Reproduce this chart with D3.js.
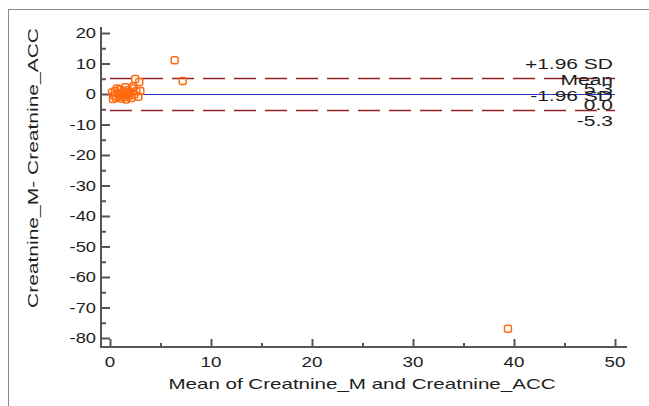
<!DOCTYPE html>
<html>
<head>
<meta charset="utf-8">
<script src="https://cdn.jsdelivr.net/npm/d3@7"></script>
<style>
    body { margin: 0; background: #fff; }
    svg { font-family: 'Liberation Sans', Arial, sans-serif; }
</style>
</head>
<body>
<div id="blandAltman"></div>
<script>
//Mean of the two methods (x) and their difference (y)
var meanValues = [0.2, 0.4, 0.5, 0.6, 0.8, 0.9, 1.0, 1.1, 1.2, 1.3, 1.4, 1.5, 1.6, 1.7, 1.8, 1.9,
    2.0, 2.1, 2.2, 2.4, 2.6, 2.8, 0.3, 0.7, 1.0, 1.5, 2.3, 3.0, 2.5, 2.9, 7.2, 6.4, 39.4];
var diffValues = [0.5, -0.5, 1.0, -1.2, 0.2, -0.8, 1.5, -1.5, 0.3, -0.4, 0.8, -1.0, -1.8, 0.1, 1.2, -0.6,
    0.6, -1.3, 1.8, -0.2, 0.9, -0.9, -1.6, 1.8, -0.2, 2.2, 2.5, 1.0, 4.9, 3.9, 4.3, 11.1, -77.0];

//Reference lines: +1.96 SD, mean, -1.96 SD
var refNames = ['+1.96 SD', 'Mean', '-1.96 SD'];
var refValues = [5.3, 0.0, -5.3];

var xTicks = [0, 10, 20, 30, 40, 50];
var yTicks = [20, 10, 0, -10, -20, -30, -40, -50, -60, -70, -80];

var width = 649, height = 406;

var x = d3.scaleLinear().domain([0, 50]).range([110, 615]);
var y = d3.scaleLinear().domain([20, -80]).range([33, 338]);

var svg = d3.select('#blandAltman')
    .append('svg')
    .attr('width', width)
    .attr('height', height);

//Text in the original is stretched sideways, so draw it with a horizontal scale
function addText(px, py, str, anchor, stretch, rotate){
    return svg.append('text')
        .attr('transform', 'translate(' + px + ',' + py + ')' + (rotate ? ' rotate(' + rotate + ')' : '') +
            ' scale(' + stretch + ',1)')
        .attr('text-anchor', anchor)
        .style('font-size', '15px')
        .style('fill', '#1e1e1e')
        .text(str);
}

//Frame edges
svg.append('line')
    .attr('x1', 8).attr('x2', width).attr('y1', 9.5).attr('y2', 9.5)
    .style('stroke', '#8a8a8a');
svg.append('line')
    .attr('x1', 8.5).attr('x2', 8.5).attr('y1', 9).attr('y2', height)
    .style('stroke', '#8a8a8a');

//Axes (ticks point inward)
var axisColor = '#555';
var yAxis = svg.append('g')
    .attr('transform', 'translate(101,0)')
    .call(d3.axisRight(y).tickValues(yTicks).tickSize(9).tickFormat(''));
var yMinor = svg.append('g')
    .attr('transform', 'translate(101,0)')
    .call(d3.axisRight(y).tickValues(d3.range(15, -80, -10)).tickSize(5).tickFormat(''));
var xAxis = svg.append('g')
    .attr('transform', 'translate(0,347)')
    .call(d3.axisTop(x).tickValues(xTicks).tickSize(8).tickFormat(''));
var xMinor = svg.append('g')
    .attr('transform', 'translate(0,347)')
    .call(d3.axisTop(x).tickValues(d3.range(5, 50, 10)).tickSize(4).tickFormat(''));

[yAxis, yMinor, xAxis, xMinor].forEach(function(g){
    g.select('.domain').remove();
    g.selectAll('line').style('stroke', axisColor).style('stroke-width', 2);
});

//Axis lines meeting at the corner
svg.append('line')
    .attr('x1', 101).attr('x2', 101).attr('y1', 27).attr('y2', 348)
    .style('stroke', axisColor).style('stroke-width', 2);
svg.append('line')
    .attr('x1', 100).attr('x2', 627).attr('y1', 347).attr('y2', 347)
    .style('stroke', axisColor).style('stroke-width', 2);

//Tick labels
yTicks.forEach(function(d){
    addText(96, y(d) + 5, d, 'end', 1.22);
});
xTicks.forEach(function(d){
    addText(x(d), 367, d, 'middle', 1.25);
});

//Axis titles
addText(362, 389, 'Mean of Creatnine_M and Creatnine_ACC', 'middle', 1.37);
addText(38, 168, 'Creatnine_M- Creatnine_ACC', 'middle', 1.4, -90);

//Reference lines
svg.selectAll('.ref')
    .data(refValues)
    .enter()
    .append('line')
    .attr('x1', x(0))
    .attr('x2', x(50))
    .attr('y1', function(d){ return Math.round(y(d)) + 0.5; })
    .attr('y2', function(d){ return Math.round(y(d)) + 0.5; })
    .style('stroke', function(d, i){ return i == 1 ? '#3030c0' : '#962323'; })
    .style('stroke-width', function(d, i){ return i == 1 ? 1 : 1.6; })
    .style('stroke-dasharray', function(d, i){ return i == 1 ? null : '22,9'; });

//Reference labels (name above, value below)
refNames.forEach(function(d, i){
    addText(613, y(refValues[i]) - 9, d, 'end', 1.4);
});
refValues.forEach(function(d){
    addText(613, y(d) + 16, d3.format('.1f')(d).replace('−', '-'), 'end', 1.4);
});

//Data points
svg.selectAll('.pt')
    .data(meanValues)
    .enter()
    .append('rect')
    .attr('x', function(d){ return x(d) - 3.5; })
    .attr('y', function(d, i){ return y(diffValues[i]) - 3.5; })
    .attr('width', 7)
    .attr('height', 7)
    .attr('rx', 2)
    .style('fill', 'none')
    .style('stroke', '#ff6a10')
    .style('stroke-width', 1.5);
</script>
</body>
</html>
